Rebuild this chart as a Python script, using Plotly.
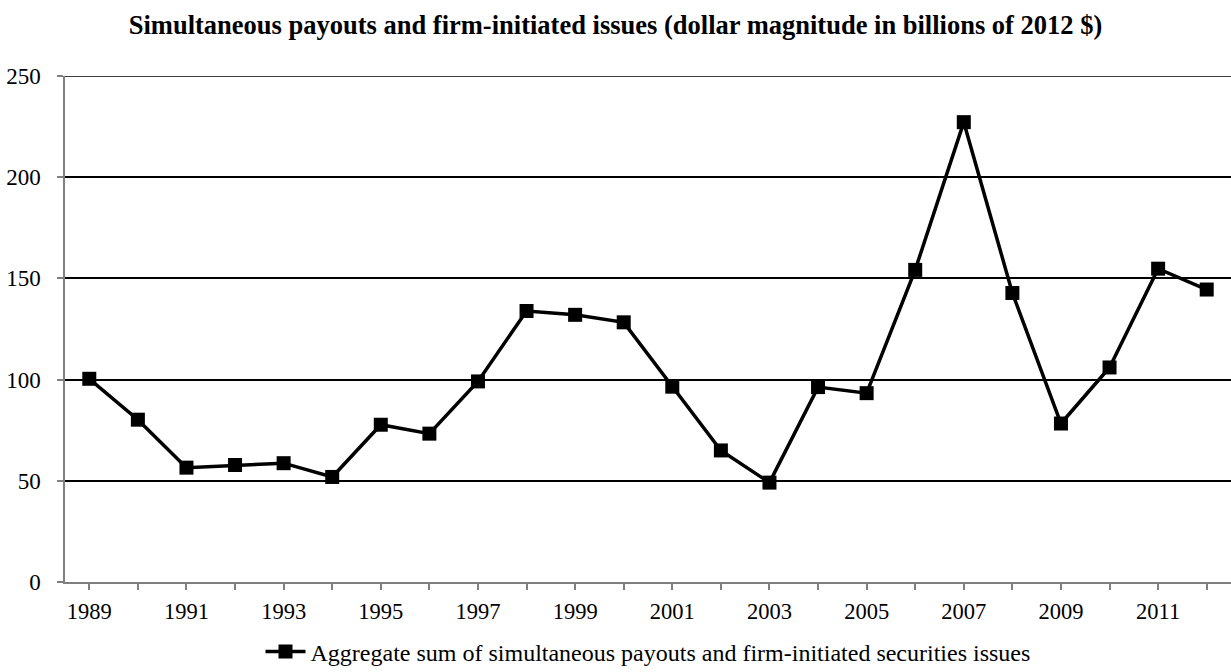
import plotly.graph_objects as go

years = list(range(1989, 2013))
values = [100.4, 80.2, 56.5, 57.8, 58.7, 51.9, 77.7, 73.3, 99.1, 133.9, 132.0, 128.3,
          96.5, 65.0, 49.1, 96.3, 93.3, 154.2, 227.2, 142.8, 78.3, 106.0, 154.8, 144.5]
tick_years = list(range(1989, 2013, 2))
y_ticks = [0, 50, 100, 150, 200, 250]
series_name = "Aggregate sum of simultaneous payouts and firm-initiated securities issues"
title = "<b>Simultaneous payouts and firm-initiated issues (dollar magnitude in billions of 2012 $)</b>"

FONT = "Liberation Serif, Times New Roman, serif"

fig = go.Figure()
fig.add_trace(go.Scatter(
    x=years, y=values, mode="lines+markers", name=series_name,
    line=dict(color="black", width=3.5),
    marker=dict(symbol="square", size=14, color="black"),
))

# top gridline (at the upper edge of the value axis)
fig.add_shape(type="line", xref="paper", yref="y", x0=0, x1=1,
              y0=y_ticks[-1], y1=y_ticks[-1], line=dict(color="black", width=1.5),
              layer="below")

fig.update_layout(
    width=1231, height=672,
    margin=dict(l=65, r=0, t=76, b=90, autoexpand=False),
    paper_bgcolor="white", plot_bgcolor="white",
    font=dict(family=FONT, size=22, color="black"),
    title=dict(text=title, x=0.5, xanchor="center", y=0.963, yanchor="middle",
               font=dict(family=FONT, size=26.5, color="black")),
    showlegend=True,
    legend=dict(orientation="h", x=0.5, xanchor="center", yref="container",
                y=0.03, yanchor="middle",
                font=dict(family=FONT, size=24), itemwidth=40),
    xaxis=dict(
        range=[1988.5, 2012.5], tickmode="array", tickvals=tick_years,
        ticktext=[str(y) for y in tick_years],
        ticks="outside", ticklen=6, tickcolor="#808080", tickwidth=1.5,
        minor=dict(tickmode="array", tickvals=years, ticks="outside", ticklen=6,
                   tickcolor="#808080", tickwidth=1.5, showgrid=False),
        showline=True, linecolor="#808080", linewidth=1.5,
        showgrid=False, zeroline=False, ticklabelstandoff=2, automargin=False,
        tickfont=dict(family=FONT, size=22.5),
    ),
    yaxis=dict(
        range=[0, 250], tickvals=y_ticks,
        ticks="outside", ticklen=6, tickcolor="#808080", tickwidth=1.5,
        showline=True, linecolor="#808080", linewidth=1.5,
        showgrid=True, gridcolor="black", gridwidth=1.5, zeroline=False,
        ticklabelstandoff=12, automargin=False,
        tickfont=dict(family=FONT, size=23),
    ),
)

fig.write_html("out.html")
